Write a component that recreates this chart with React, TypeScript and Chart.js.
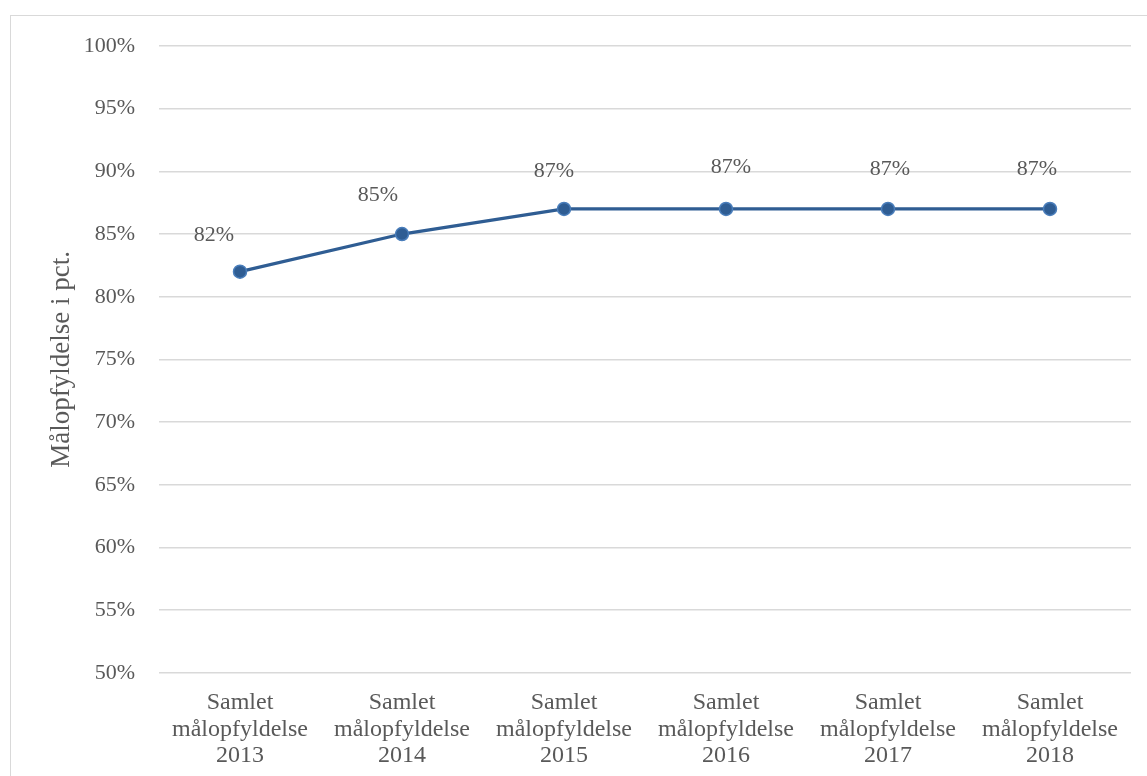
import React, { useEffect, useRef } from "react";
import { Chart, registerables } from "chart.js";

Chart.register(...registerables);

const categories: string[][] = [
  ["Samlet", "målopfyldelse", "2013"],
  ["Samlet", "målopfyldelse", "2014"],
  ["Samlet", "målopfyldelse", "2015"],
  ["Samlet", "målopfyldelse", "2016"],
  ["Samlet", "målopfyldelse", "2017"],
  ["Samlet", "målopfyldelse", "2018"],
];
const values: number[] = [82, 85, 87, 87, 87, 87];
const labelDx: number[] = [-26, -24, -10, 5, 2, -13];
const labelDy: number[] = [-36, -39, -38, -42, -40, -40];
const yTitle = "Målopfyldelse i pct.";

const FONT = "'Liberation Serif', 'Times New Roman', serif";
const TEXT = "#595959";

const labelPlugin = {
  id: "pointLabels",
  afterDatasetsDraw(chart: any) {
    const ctx = chart.ctx;
    const meta = chart.getDatasetMeta(0);
    ctx.save();
    ctx.font = `22px ${FONT}`;
    ctx.fillStyle = TEXT;
    ctx.textAlign = "center";
    ctx.textBaseline = "middle";
    meta.data.forEach((pt: any, i: number) => {
      ctx.fillText(`${values[i]}%`, pt.x + labelDx[i], pt.y + labelDy[i]);
    });
    ctx.restore();
  },
};

export default function App() {
  const ref = useRef<HTMLCanvasElement>(null);
  useEffect(() => {
    document.body.style.margin = "0";
    const chart = new Chart(ref.current!, {
      type: "line",
      data: {
        labels: categories,
        datasets: [
          {
            data: values,
            borderColor: "#2F5D93",
            borderWidth: 3.25,
            backgroundColor: "#2F5D93",
            pointBackgroundColor: "#2F5D93",
            pointBorderColor: "#4A7EBB",
            pointBorderWidth: 1.5,
            pointRadius: 6.5,
            tension: 0,
          },
        ],
      },
      options: {
        responsive: false,
        animation: false,
        layout: { padding: { left: 40, right: 16, top: 46, bottom: 8 } },
        plugins: { legend: { display: false }, tooltip: { enabled: false } },
        scales: {
          x: {
            offset: true,
            grid: { display: false, drawTicks: false },
            border: { display: false },
            ticks: {
              font: { family: FONT, size: 24, lineHeight: 1.1 },
              color: TEXT,
              padding: 17,
              maxRotation: 0,
              autoSkip: false,
            },
          },
          y: {
            min: 50,
            max: 100,
            afterFit: (s: any) => {
              s.width = 119;
            },
            grid: { color: "#D9D9D9", lineWidth: 1.5, drawTicks: false },
            border: { display: false },
            ticks: {
              stepSize: 5,
              font: { family: FONT, size: 22 },
              color: TEXT,
              padding: 24,
              callback: (v: any) => `${v}%`,
            },
            title: {
              display: true,
              text: yTitle,
              font: { family: FONT, size: 27 },
              color: TEXT,
              padding: { top: 6, bottom: 0 },
            },
          },
        },
      },
      plugins: [labelPlugin],
    });
    return () => chart.destroy();
  }, []);
  return (
    <div style={{ position: "relative", width: 1147, height: 776, overflow: "hidden" }}>
      <div
        style={{
          position: "absolute",
          left: 10,
          top: 15,
          width: 1160,
          height: 800,
          border: "1px solid #D9D9D9",
          boxSizing: "border-box",
        }}
      />
      <canvas ref={ref} width={1147} height={794} style={{ position: "absolute", left: 0, top: 0 }} />
    </div>
  );
}
